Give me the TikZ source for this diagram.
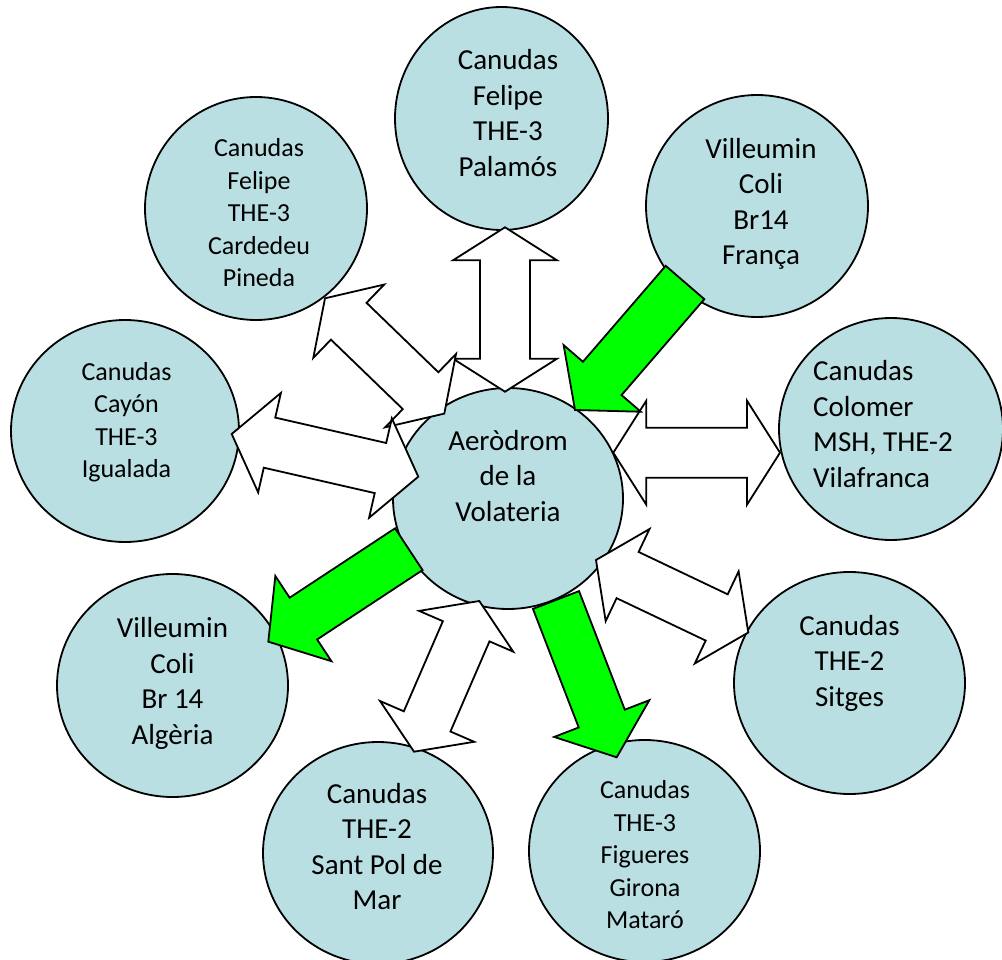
\documentclass[tikz,border=0pt]{standalone}
\usepackage{fontspec}
\setmainfont{Carlito}
\usetikzlibrary{calc,shapes.geometric}
\definecolor{circfill}{RGB}{185,223,227}
\definecolor{arrgreen}{RGB}{0,255,0}
% double block arrow between two named tip coordinates
% #1 tip A, #2 tip B, #3 head length, #4 head half width, #5 shaft half width, #6 style
\newcommand\dblarrow[6]{%
\draw[#6] let \p1=(#1),\p2=(#2),\n1={atan2(\y2-\y1,\x2-\x1)},\n2={veclen(\x2-\x1,\y2-\y1)} in
 ([shift={(\p1)},rotate=\n1]0,0) -- ([shift={(\p1)},rotate=\n1]#3,#4) -- ([shift={(\p1)},rotate=\n1]#3,#5)
 -- ([shift={(\p1)},rotate=\n1]\n2-#3,#5) -- ([shift={(\p1)},rotate=\n1]\n2-#3,#4) -- ([shift={(\p1)},rotate=\n1]\n2,0)
 -- ([shift={(\p1)},rotate=\n1]\n2-#3,-#4) -- ([shift={(\p1)},rotate=\n1]\n2-#3,-#5)
 -- ([shift={(\p1)},rotate=\n1]#3,-#5) -- ([shift={(\p1)},rotate=\n1]#3,-#4) -- cycle;}
% single block arrow from tail midpoint #1 to tip #2
\newcommand\sglarrow[6]{%
\draw[#6] let \p1=(#1),\p2=(#2),\n1={atan2(\y2-\y1,\x2-\x1)},\n2={veclen(\x2-\x1,\y2-\y1)} in
 ([shift={(\p1)},rotate=\n1]0,#5) -- ([shift={(\p1)},rotate=\n1]\n2-#3,#5) -- ([shift={(\p1)},rotate=\n1]\n2-#3,#4)
 -- ([shift={(\p1)},rotate=\n1]\n2,0) -- ([shift={(\p1)},rotate=\n1]\n2-#3,-#4) -- ([shift={(\p1)},rotate=\n1]\n2-#3,-#5)
 -- ([shift={(\p1)},rotate=\n1]0,-#5) -- cycle;}
\begin{document}
\begin{tikzpicture}[x=1pt,y=-1pt,
  bub/.style={ellipse, draw=black, line width=1.8pt, fill=circfill, inner sep=0pt},
  lbl/.style={align=center, inner sep=0pt, text=black},
  big/.style={font=\fontsize{29}{35.5}\selectfont},
  small/.style={font=\fontsize{26}{32.5}\selectfont},
  warrow/.style={draw=black, line width=1.8pt, fill=white},
  garrow/.style={draw=black, line width=1.8pt, fill=arrgreen}]
\useasboundingbox (0,0) rectangle (1002,960);
% circles
\node[bub, minimum width=213pt, minimum height=223pt] (palamos) at (501.5,118.5) {};
\node[bub, minimum width=222pt, minimum height=223pt] (cardedeu) at (256,208.5) {};
\node[bub, minimum width=222pt, minimum height=222pt] (franca) at (757,206) {};
\node[bub, minimum width=228pt, minimum height=222pt] (igualada) at (125,431) {};
\node[bub, minimum width=224pt, minimum height=222pt] (vilafranca) at (891,429) {};
\node[bub, minimum width=230pt, minimum height=221pt] (aerodrom) at (508,498.5) {};
\node[bub, minimum width=231pt, minimum height=223pt] (algeria) at (172.5,685.5) {};
\node[bub, minimum width=231pt, minimum height=222pt] (sitges) at (849.5,683) {};
\node[bub, minimum width=230pt, minimum height=222pt] (santpol) at (378,853) {};
\node[bub, minimum width=231pt, minimum height=222pt] (figueres) at (644.5,851) {};
% arrow end points
\coordinate (d1a) at (505,227.3);   \coordinate (d1b) at (505,391.7);
\coordinate (d2a) at (325,298.3);   \coordinate (d2b) at (444.3,413.6);
\coordinate (d3a) at (231.7,434);   \coordinate (d3b) at (418.3,476.7);
\coordinate (d4a) at (613.3,452.7); \coordinate (d4b) at (780,452.7);
\coordinate (d5a) at (596,560);     \coordinate (d5b) at (748.3,632.5);
\coordinate (d6a) at (479.3,601);   \coordinate (d6b) at (414,751.7);
\coordinate (g1a) at (685,282.5);   \coordinate (g1b) at (575,410);
\coordinate (g2a) at (408.8,549.2); \coordinate (g2b) at (268.3,641.7);
\coordinate (g3a) at (556,600);     \coordinate (g3b) at (616.7,757.3);
% white double arrows
\dblarrow{d1a}{d1b}{33}{52}{25}{warrow}
\dblarrow{d2a}{d2b}{33}{51}{25.6}{warrow}
\dblarrow{d3a}{d3b}{38.8}{51}{25.7}{warrow}
\dblarrow{d4a}{d4b}{33}{52}{25}{warrow}
\dblarrow{d5a}{d5b}{35}{51}{25.6}{warrow}
\dblarrow{d6a}{d6b}{33}{51.3}{25.4}{warrow}
% green single arrows
\sglarrow{g1a}{g1b}{41.7}{51}{25.5}{garrow}
\sglarrow{g2a}{g2b}{42}{51}{25}{garrow}
\sglarrow{g3a}{g3b}{41.5}{51}{24.7}{garrow}
% labels
\node[lbl,big] at (508,113) {Canudas\\Felipe\\THE-3\\Palamós};
\node[lbl,small] at (259,213) {Canudas\\Felipe\\THE-3\\Cardedeu\\Pineda};
\node[lbl,big] at (761,204) {Villeumin\\Coli\\Br14\\França};
\node[lbl,small] at (126.5,422) {Canudas\\Cayón\\THE-3\\Igualada};
\node[lbl,big,align=left,anchor=west] at (813,424) {Canudas\\Colomer\\MSH, THE-2\\Vilafranca};
\node[lbl,big] at (508,476) {Aeròdrom\\de la\\Volateria};
\node[lbl,big] at (172.5,683.5) {Villeumin\\Coli\\Br 14\\Algèria};
\node[lbl,big] at (849.5,663) {Canudas\\THE-2\\Sitges};
\node[lbl,big] at (377,846.5) {Canudas\\THE-2\\Sant Pol de\\Mar};
\node[lbl,small] at (645,855) {Canudas\\THE-3\\Figueres\\Girona\\Mataró};
\end{tikzpicture}
\end{document}
